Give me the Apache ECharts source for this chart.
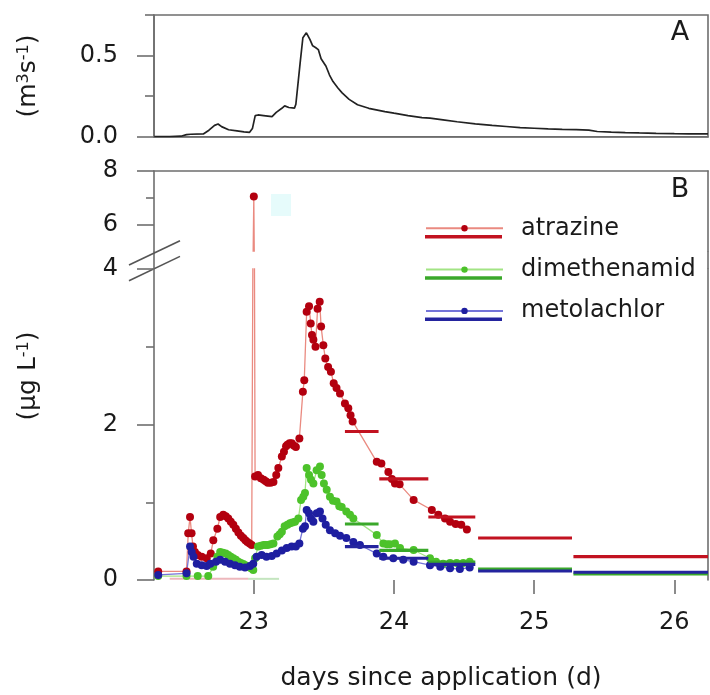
<!DOCTYPE html>
<html><head><meta charset="utf-8">
<script src="https://cdn.jsdelivr.net/npm/echarts@6/dist/echarts.min.js"></script>
<style>html,body{margin:0;padding:0;background:#fff}#c{width:710px;height:695px}</style>
</head><body><div id="c"></div>
<script>
// ---------------- DATA ----------------
const xTicks = [23, 24, 25, 26];
const dischargeTickLabels = [0, 0.5];
const concUpperTickLabels = [6, 8];
const concLowerTickLabels = [0, 2, 4];

// Panel A: discharge (m3 s-1)
const dischargeDays = [22.29,22.40,22.48,22.52,22.55,22.64,22.68,22.72,22.745,22.77,22.82,22.88,22.93,22.97,22.99,23.01,23.03,23.07,23.13,23.16,23.20,23.22,23.25,23.29,23.30,23.33,23.35,23.375,23.40,23.42,23.44,23.46,23.48,23.515,23.54,23.565,23.60,23.63,23.68,23.74,23.82,23.935,24.00,24.10,24.20,24.257,24.35,24.45,24.58,24.70,24.80,24.90,25.00,25.10,25.20,25.30,25.39,25.45,25.55,25.65,25.75,25.87,26.00,26.10,26.24];
const dischargeValues = [0.0,0.0,0.003,0.013,0.015,0.017,0.04,0.07,0.078,0.062,0.043,0.036,0.030,0.027,0.05,0.13,0.134,0.13,0.124,0.15,0.175,0.19,0.18,0.176,0.20,0.45,0.61,0.64,0.60,0.56,0.55,0.537,0.48,0.434,0.38,0.34,0.30,0.27,0.23,0.197,0.175,0.155,0.145,0.13,0.118,0.114,0.104,0.092,0.079,0.07,0.063,0.056,0.052,0.048,0.045,0.043,0.041,0.032,0.028,0.025,0.023,0.021,0.019,0.018,0.017];

// Panel B: high-resolution samples (ug L-1)
const atrazineDays = [22.318,22.52,22.532,22.545,22.556,22.566,22.58,22.60,22.628,22.664,22.693,22.711,22.74,22.76,22.782,22.80,22.818,22.836,22.854,22.872,22.89,22.908,22.925,22.94,22.954,22.97,22.985,23.00,23.009,23.03,23.05,23.07,23.085,23.10,23.12,23.14,23.16,23.175,23.20,23.215,23.23,23.24,23.255,23.27,23.285,23.30,23.325,23.35,23.36,23.377,23.394,23.406,23.415,23.425,23.44,23.455,23.47,23.48,23.496,23.51,23.53,23.55,23.57,23.59,23.615,23.65,23.674,23.69,23.705,23.877,23.91,23.96,23.985,24.007,24.04,24.14,24.27,24.316,24.364,24.40,24.44,24.48,24.52];
const atrazineValues = [0.11,0.11,0.60,0.81,0.60,0.43,0.36,0.32,0.30,0.28,0.34,0.51,0.66,0.81,0.84,0.82,0.79,0.75,0.71,0.66,0.61,0.57,0.54,0.51,0.49,0.47,0.45,7.04,1.33,1.35,1.31,1.29,1.27,1.25,1.25,1.26,1.35,1.44,1.59,1.65,1.72,1.74,1.76,1.76,1.73,1.71,1.82,2.42,2.57,3.45,3.52,3.30,3.15,3.09,3.00,3.49,3.58,3.26,3.02,2.85,2.74,2.68,2.53,2.47,2.40,2.27,2.21,2.12,2.04,1.52,1.50,1.39,1.30,1.24,1.23,1.03,0.90,0.84,0.79,0.75,0.72,0.71,0.65];

const dimethenamidDays = [22.318,22.52,22.60,22.675,22.71,22.74,22.76,22.78,22.80,22.818,22.836,22.854,22.872,22.89,22.908,22.925,22.94,22.96,22.98,22.996,23.009,23.03,23.05,23.07,23.085,23.10,23.12,23.14,23.168,23.185,23.20,23.22,23.24,23.258,23.275,23.294,23.318,23.337,23.353,23.365,23.377,23.394,23.408,23.425,23.448,23.472,23.484,23.50,23.52,23.543,23.565,23.59,23.61,23.627,23.66,23.686,23.71,23.877,23.924,23.95,23.97,24.007,24.043,24.14,24.257,24.30,24.35,24.40,24.447,24.494,24.54];
const dimethenamidValues = [0.05,0.05,0.05,0.05,0.17,0.30,0.36,0.35,0.34,0.32,0.30,0.28,0.26,0.235,0.22,0.206,0.19,0.17,0.15,0.13,0.28,0.43,0.44,0.45,0.45,0.45,0.46,0.47,0.56,0.59,0.62,0.69,0.71,0.73,0.74,0.75,0.79,1.03,1.07,1.12,1.44,1.35,1.29,1.24,1.41,1.46,1.35,1.24,1.16,1.07,1.02,1.01,0.95,0.94,0.88,0.84,0.79,0.58,0.47,0.46,0.46,0.47,0.41,0.386,0.28,0.235,0.21,0.22,0.22,0.22,0.235];

const metolachlorDays = [22.318,22.52,22.545,22.557,22.57,22.593,22.628,22.664,22.69,22.73,22.76,22.795,22.83,22.866,22.90,22.937,22.973,22.996,23.02,23.056,23.09,23.128,23.163,23.20,23.235,23.27,23.30,23.325,23.35,23.365,23.377,23.394,23.408,23.425,23.449,23.472,23.49,23.513,23.543,23.58,23.615,23.66,23.71,23.757,23.877,23.924,23.995,24.066,24.14,24.257,24.33,24.40,24.47,24.54];
const metolachlorValues = [0.065,0.086,0.43,0.36,0.30,0.21,0.19,0.18,0.21,0.235,0.26,0.235,0.21,0.19,0.17,0.16,0.18,0.21,0.30,0.32,0.30,0.31,0.34,0.38,0.41,0.43,0.43,0.47,0.66,0.69,0.90,0.86,0.79,0.75,0.86,0.88,0.79,0.71,0.64,0.60,0.57,0.54,0.49,0.45,0.34,0.30,0.28,0.26,0.235,0.19,0.17,0.15,0.14,0.16];

// Panel B: composite samples (horizontal bars)
const compositeStart = [23.65, 23.895, 24.245, 24.60, 25.28];
const compositeEnd   = [23.89, 24.245, 24.58, 25.27, 26.24];
const atrazineComposite     = [1.91, 1.30, 0.81, 0.54, 0.30];
const dimethenamidComposite = [0.72, 0.38, 0.23, 0.14, 0.077];
const metolachlorComposite  = [0.43, 0.28, 0.20, 0.116, 0.10];
// early composites near zero (faint)
const earlyAtrazineStart = [22.40], earlyAtrazineEnd = [22.96], earlyAtrazineValue = [0.015];
const earlyDimethStart = [22.96], earlyDimethEnd = [23.18], earlyDimethValue = [0.015];

// ---------------- BUILD ----------------
const zip = (xs, ys) => xs.map((x, i) => [x, ys[i]]);
const bars = (s, e, v) => { const out = []; s.forEach((x, i) => { out.push([x, v[i]], [e[i], v[i]], [e[i], '-']); }); return out; };

const FONT = 'DejaVu Sans';
const AX = '#6e6e6e';
const TXT = '#1a1a1a';
const XMIN = 22.288, XMAX = 26.240;

const C = {
  atr: {dot: '#b3000f', line: '#ea8a80', comp: '#c21220'},
  dim: {dot: '#4cc22a', line: '#a2e484', comp: '#3aa82a'},
  met: {dot: '#1e1ea0', line: '#7474d8', comp: '#24249e'}
};

const chart = echarts.init(document.getElementById('c'), null, {renderer: 'canvas'});

const axLine = {show: true, onZero: false, lineStyle: {color: AX, width: 1.6}};
const noAx = {show: false};
const lbl = (vals, fmt) => ({show: true, customValues: vals, margin: 36, fontSize: 24, fontFamily: FONT, color: TXT, formatter: fmt});
const tick = (vals, len) => ({show: true, customValues: vals, length: len, lineStyle: {color: AX, width: 1.6}});

function measured(name, key, days, vals, xi, yi) {
  return {
    type: 'line', name, xAxisIndex: xi, yAxisIndex: yi, data: zip(days, vals),
    symbol: 'circle', symbolSize: 8, showSymbol: true, clip: true, animation: false,
    itemStyle: {color: C[key].dot},
    lineStyle: {color: C[key].line, width: 1.3}, z: 3
  };
}
function composite(name, key, vals) {
  return {
    type: 'line', name, xAxisIndex: 2, yAxisIndex: 5, data: bars(compositeStart, compositeEnd, vals),
    symbol: 'none', connectNulls: false, clip: true, animation: false,
    itemStyle: {color: C[key].comp},
    lineStyle: {color: C[key].comp, width: 3.2}, z: 4
  };
}

const option = {
  backgroundColor: '#fff',
  animation: false,
  grid: [
    {left: 154, top: 15, width: 554, height: 121.7, show: true, borderColor: AX, borderWidth: 1.6, backgroundColor: 'transparent'},
    {left: 154, top: 171, width: 554, height: 80},
    {left: 154, top: 269, width: 554, height: 311}
  ],
  xAxis: [
    {type: 'value', gridIndex: 0, min: XMIN, max: XMAX, axisLine: axLine, axisTick: noAx, axisLabel: noAx, splitLine: noAx},
    {type: 'value', gridIndex: 1, position: 'top', min: XMIN, max: XMAX, axisLine: axLine, axisTick: noAx, axisLabel: noAx, splitLine: noAx},
    {type: 'value', gridIndex: 2, min: XMIN, max: XMAX, axisLine: {show: false, onZero: false},
     axisTick: tick(xTicks, 14), axisLabel: Object.assign(lbl(xTicks, v => String(v)), {margin: 31}), splitLine: noAx,
     name: 'days since application (d)', nameLocation: 'middle', nameGap: 86,
     nameTextStyle: {fontSize: 25, fontFamily: FONT, color: TXT, padding: [0, 0, 0, 20]}}
  ],
  yAxis: [
    {type: 'value', gridIndex: 0, position: 'left', min: 0, max: 0.75, axisLine: axLine, axisTick: tick(dischargeTickLabels, 17),
     axisLabel: lbl(dischargeTickLabels, v => v.toFixed(1)), splitLine: noAx},
    {type: 'value', gridIndex: 0, position: 'left', min: 0, max: 0.75, axisLine: {show: false, onZero: false}, axisTick: tick([0.25, 0.75], 9), axisLabel: noAx, splitLine: noAx},
    {type: 'value', gridIndex: 1, position: 'left', min: 5, max: 8, axisLine: axLine, axisTick: tick(concUpperTickLabels, 17),
     axisLabel: lbl(concUpperTickLabels, v => String(v)), splitLine: noAx},
    {type: 'value', gridIndex: 1, position: 'left', min: 5, max: 8, axisLine: {show: false, onZero: false}, axisTick: tick([7], 8), axisLabel: noAx, splitLine: noAx},
    {type: 'value', gridIndex: 1, position: 'right', min: 5, max: 8, axisLine: axLine, axisTick: noAx, axisLabel: noAx, splitLine: noAx},
    {type: 'value', gridIndex: 2, position: 'left', min: 0, max: 4, axisLine: axLine, axisTick: tick(concLowerTickLabels, 17),
     axisLabel: lbl(concLowerTickLabels, v => String(v)), splitLine: noAx},
    {type: 'value', gridIndex: 2, position: 'left', min: 0, max: 4, axisLine: {show: false, onZero: false}, axisTick: tick([1, 3], 8), axisLabel: noAx, splitLine: noAx},
    {type: 'value', gridIndex: 2, position: 'right', min: 0, max: 4, axisLine: axLine, axisTick: noAx, axisLabel: noAx, splitLine: noAx}
  ],
  legend: [
    {data: ['atrazine', 'dimethenamid', 'metolachlor'], orient: 'vertical', left: 425, top: 216.3, padding: 0,
     itemWidth: 77, itemHeight: 8, itemGap: 17.3, selectedMode: false,
     textStyle: {fontSize: 24, lineHeight: 24, fontFamily: FONT, color: TXT, padding: [0, 0, 0, 13]}},
    {data: [{name: 'atrazine composite', icon: 'rect'}, {name: 'dimethenamid composite', icon: 'rect'}, {name: 'metolachlor composite', icon: 'rect'}],
     orient: 'vertical', left: 425, top: 224.7, padding: 0, itemWidth: 77, itemHeight: 3.5, itemGap: 17.3, selectedMode: false,
     formatter: () => ' ', textStyle: {fontSize: 24, lineHeight: 24, fontFamily: FONT, color: TXT}}
  ],
  series: [
    {type: 'line', name: 'discharge', xAxisIndex: 0, yAxisIndex: 0, data: zip(dischargeDays, dischargeValues),
     symbol: 'none', lineStyle: {color: '#222', width: 1.7}, itemStyle: {color: '#222'}},
    {type: 'line', name: 'atrazine nd', xAxisIndex: 2, yAxisIndex: 5, data: bars(earlyAtrazineStart, earlyAtrazineEnd, earlyAtrazineValue),
     symbol: 'none', lineStyle: {color: C.atr.comp, width: 2, opacity: 0.3}, z: 2},
    {type: 'line', name: 'dimethenamid nd', xAxisIndex: 2, yAxisIndex: 5, data: bars(earlyDimethStart, earlyDimethEnd, earlyDimethValue),
     symbol: 'none', lineStyle: {color: C.dim.comp, width: 2, opacity: 0.3}, z: 2},
    measured('atrazine', 'atr', atrazineDays, atrazineValues, 2, 5),
    measured('atrazine', 'atr', atrazineDays, atrazineValues, 1, 2),
    measured('dimethenamid', 'dim', dimethenamidDays, dimethenamidValues, 2, 5),
    measured('metolachlor', 'met', metolachlorDays, metolachlorValues, 2, 5),
    composite('atrazine composite', 'atr', atrazineComposite),
    composite('dimethenamid composite', 'dim', dimethenamidComposite),
    composite('metolachlor composite', 'met', metolachlorComposite)
  ],
  graphic: [
    // axis-break connectors and slashes
    {type: 'line', shape: {x1: 154, y1: 251, x2: 154, y2: 269}, style: {stroke: AX, lineWidth: 1.6}, silent: true},
    {type: 'line', shape: {x1: 708, y1: 251, x2: 708, y2: 269}, style: {stroke: AX, lineWidth: 1.6}, silent: true},
    {type: 'line', shape: {x1: 129, y1: 265, x2: 180, y2: 240.7}, style: {stroke: '#555', lineWidth: 1.6}, silent: true},
    {type: 'line', shape: {x1: 129, y1: 280.7, x2: 180, y2: 256.4}, style: {stroke: '#555', lineWidth: 1.6}, silent: true},
    {type: 'rect', shape: {x: 271, y: 194, width: 20, height: 22}, style: {fill: '#e6fbfb'}, silent: true, z: 0},
    // y axis titles
    {type: 'text', x: 28, y: 76, rotation: Math.PI / 2, silent: true,
     style: {text: '(m{s|3}s{s|-1})', fontSize: 25, fontFamily: FONT, fill: TXT, align: 'center', verticalAlign: 'middle',
             rich: {s: {fontSize: 16, fontFamily: FONT, fill: TXT, verticalAlign: 'top', lineHeight: 16}}}},
    {type: 'text', x: 28, y: 376, rotation: Math.PI / 2, silent: true,
     style: {text: '(µg L{s|-1})', fontSize: 25, fontFamily: FONT, fill: TXT, align: 'center', verticalAlign: 'middle',
             rich: {s: {fontSize: 16, fontFamily: FONT, fill: TXT, verticalAlign: 'top', lineHeight: 16}}}},
    // panel letters
    {type: 'text', x: 680, y: 33, silent: true, style: {text: 'A', fontSize: 27, fontFamily: FONT, fill: TXT, align: 'center', verticalAlign: 'middle'}},
    {type: 'text', x: 680, y: 190, silent: true, style: {text: 'B', fontSize: 27, fontFamily: FONT, fill: TXT, align: 'center', verticalAlign: 'middle'}}
  ]
};
chart.setOption(option);
</script></body></html>
